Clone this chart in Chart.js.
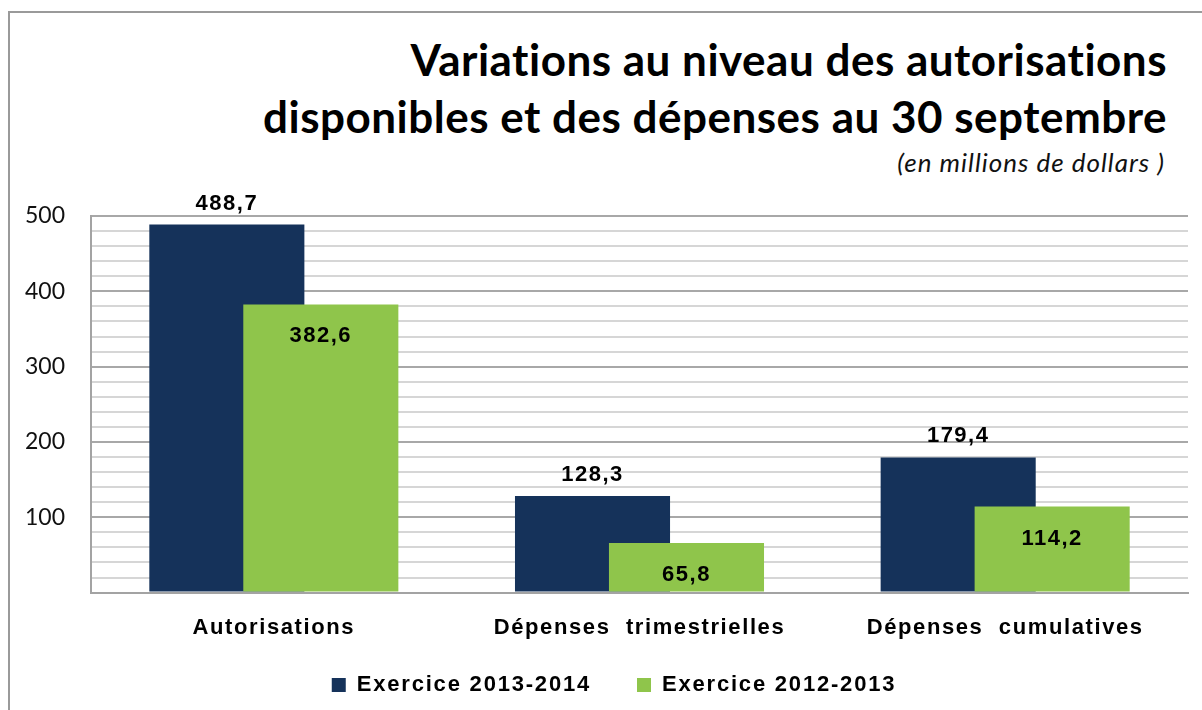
<!DOCTYPE html>
<html lang="fr">
<head>
<meta charset="utf-8">
<title>Variations au niveau des autorisations</title>
<script src="https://cdn.jsdelivr.net/npm/chart.js@4.4.1/dist/chart.umd.min.js"></script>
<style>
    html, body { margin: 0; padding: 0; background: #fff; overflow: hidden; }
    #frame {
        position: absolute; left: 8px; top: 11px; width: 1400px; height: 900px;
        border-top: 2px solid #9a9a9a; border-left: 2px solid #9a9a9a;
    }
    #wrap { position: absolute; left: 0; top: 0; width: 1202px; height: 710px; }
    #titre {
        position: absolute; right: 35px; top: 31px; text-align: right;
        font: bold 44px/57px Lato, Carlito, Calibri, sans-serif;
        letter-spacing: 0.5px; color: #000; white-space: nowrap;
    }
    #sous-titre {
        position: absolute; right: 37px; top: 147px; text-align: right;
        font: italic 26px/30px Lato, Carlito, Calibri, sans-serif;
        letter-spacing: 1px; color: #111; white-space: nowrap;
    }
</style>
</head>
<body>
<div id="frame"></div>
<div id="titre"></div>
<div id="sous-titre"></div>
<div id="wrap"><canvas id="chart"></canvas></div>
<script>
// données du graphique (en millions de dollars)
const categories = ['Autorisations', 'Dépenses  trimestrielles', 'Dépenses  cumulatives'];
const exercice20132014 = [488.7, 128.3, 179.4];
const exercice20122013 = [382.6, 65.8, 114.2];
const seriesLabels = ['Exercice 2013-2014', 'Exercice 2012-2013'];
const yTicks = [100, 200, 300, 400, 500];

const titleLines = ['Variations au niveau des autorisations', 'disponibles et des dépenses au 30 septembre'];
const subtitleText = '(en millions de dollars )';

const NAVY = '#15325a';
const GREEN = '#8fc54b';
const ARIAL = '"Liberation Sans", Arial, sans-serif';
const CALIBRI = 'Lato, Carlito, Calibri, sans-serif';

// format français : virgule décimale
function frNum(v) {
    return v.toFixed(1).replace('.', ',');
}

// étiquettes de valeurs sur les barres
const valueLabels = {
    id: 'valueLabels',
    afterDatasetsDraw(chart) {
        const ctx = chart.ctx;
        ctx.save();
        ctx.font = 'bold 22px ' + ARIAL;
        ctx.fillStyle = '#000';
        ctx.textAlign = 'center';
        ctx.textBaseline = 'alphabetic';
        ctx.letterSpacing = '1.5px';
        chart.data.datasets.forEach((ds, di) => {
            chart.getDatasetMeta(di).data.forEach((bar, i) => {
                const txt = frNum(ds.data[i]);
                const y = di === 0 ? bar.y - 15 : bar.y + 38;
                ctx.fillText(txt, bar.x, y);
            });
        });
        ctx.restore();
    }
};

// la série verte passe devant la bleue (barres qui se chevauchent)
const overlapOrder = {
    id: 'overlapOrder',
    beforeDatasetDraw(chart, args) {
        if (args.index === 0) return false;
        if (args.index === 1) {
            chart.getDatasetMeta(0).controller.draw();
        }
    }
};

// espacement des lettres (texte Arial un peu étiré dans l'original)
function withSpacing(ctx, fn, spacing, dx, dy) {
    return function (...args) {
        ctx.save();
        ctx.letterSpacing = spacing;
        if (dx || dy) ctx.translate(dx || 0, dy || 0);
        const r = fn.apply(this, args);
        ctx.restore();
        return r;
    };
}

const LEGEND_HEIGHT = 43;

const spacedText = {
    id: 'spacedText',
    beforeLayout(chart) {
        const lg = chart.legend;
        if (lg && !lg._spaced) {
            const fit = withSpacing(chart.ctx, lg.fit, '1.8px');
            lg.fit = function () {
                fit.call(this);
                this.height = LEGEND_HEIGHT;
            };
            lg._draw = withSpacing(chart.ctx, lg._draw, '1.8px', 20, -35);
            lg._spaced = true;
        }
    },
    afterLayout(chart) {
        const xs = chart.scales.x;
        if (xs && !xs._spaced) {
            xs.drawLabels = withSpacing(chart.ctx, xs.drawLabels, '1.6px');
            xs._spaced = true;
        }
    }
};

document.addEventListener('DOMContentLoaded', () => {
    // titre et sous-titre
    document.getElementById('titre').innerHTML = titleLines.join('<br>');
    document.getElementById('sous-titre').textContent = subtitleText;

    const ctx = document.getElementById('chart').getContext('2d');

    new Chart(ctx, {
        type: 'bar',
        data: {
            labels: categories,
            datasets: [
                {
                    label: seriesLabels[0],
                    data: exercice20132014,
                    backgroundColor: NAVY,
                    borderWidth: 0
                },
                {
                    label: seriesLabels[1],
                    data: exercice20122013,
                    backgroundColor: GREEN,
                    borderWidth: 0
                }
            ]
        },
        options: {
            responsive: true,
            maintainAspectRatio: false,
            animation: false,
            categoryPercentage: 0.514,
            barPercentage: 1.65,
            layout: {
                padding: { left: 0, right: 14, top: 216, bottom: 4 }
            },
            plugins: {
                legend: {
                    position: 'bottom',
                    labels: {
                        color: '#000',
                        boxWidth: 14,
                        boxHeight: 14,
                        padding: 46,
                        font: { family: ARIAL, size: 22, weight: 'bold' }
                    }
                },
                tooltip: { enabled: false }
            },
            scales: {
                x: {
                    grid: { display: false, drawTicks: false },
                    border: { display: true, color: '#a3a3a3', width: 2 },
                    ticks: {
                        color: '#000',
                        padding: 22,
                        maxRotation: 0,
                        font: { family: ARIAL, size: 22, weight: 'bold' }
                    }
                },
                y: {
                    min: 0,
                    max: 500,
                    afterFit(scale) { scale.width = 91; },
                    ticks: {
                        stepSize: 20,
                        autoSkip: false,
                        color: '#111',
                        padding: 26,
                        font: { family: CALIBRI, size: 23 },
                        callback: (v) => yTicks.includes(v) ? String(v) : ''
                    },
                    grid: {
                        drawTicks: false,
                        lineWidth: 2,
                        color: (c) => (c.tick && c.tick.value % 100 === 0) ? '#a8a8a8' : '#d6d6d6'
                    },
                    border: { display: true, color: '#a3a3a3', width: 2 }
                }
            }
        },
        plugins: [valueLabels, overlapOrder, spacedText]
    });
});
</script>
</body>
</html>
